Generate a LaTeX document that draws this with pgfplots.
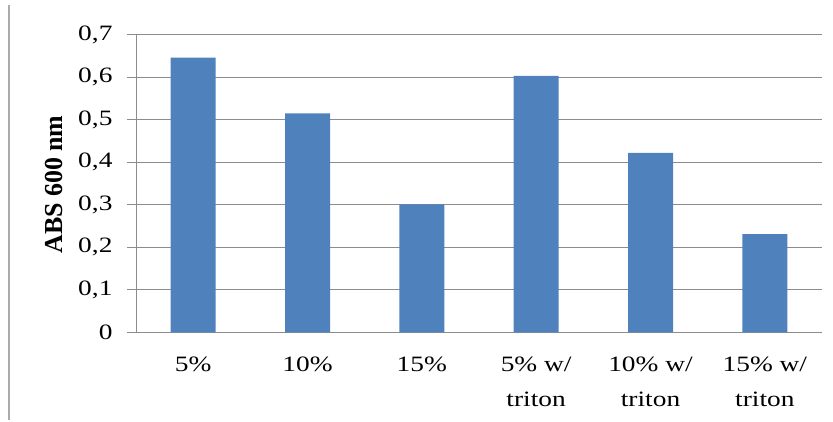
\documentclass[border=0pt]{standalone}
\usepackage{fontspec}
\setmainfont{Liberation Serif}
\newfontfamily\widefont{Liberation Serif}[FakeStretch=1.25]
\usepackage{pgfplots}
\pgfplotsset{compat=1.18}
\definecolor{barblue}{HTML}{4F81BD}
\definecolor{gridgray}{HTML}{8C8C8C}
\begin{document}
\begin{tikzpicture}[x=1bp,y=1bp]
\useasboundingbox (0,0) rectangle (833,421);
\draw[draw=black!33, line width=2bp] (8.7,1) -- (8.7,416);
\begin{axis}[
  at={(136bp,88.7bp)}, anchor=south west,
  scale only axis, width=686bp, height=297.6bp,
  ymin=0, ymax=0.7, ytick={0,0.1,...,0.7},
  xmin=-0.5, xmax=5.5,
  xtick={0,...,5},
  xticklabels={5\%,10\%,15\%,{5\% w/\\triton},{10\% w/\\triton},{15\% w/\\triton}},
  xticklabel style={align=center, font=\widefont\fontsize{22}{35}\selectfont, anchor=north, yshift=-12bp},
  major x tick style={draw=none},
  yticklabel style={font=\widefont\fontsize{22}{24}\selectfont, xshift=-11bp},
  /pgf/number format/assume math mode=true,
  /pgf/number format/use comma,
  /pgf/number format/fixed,
  /pgf/number format/precision=1,
  ymajorgrids, grid style={gridgray, line width=0.9bp},
  axis x line*=bottom, axis y line*=left,
  axis line style={gridgray, line width=0.9bp, -},
  ytick style={gridgray, line width=0.9bp},
  tick align=outside, major tick length=9bp,
  ylabel={\textbf{ABS 600 nm}},
  ylabel style={font=\fontsize{26}{28}\selectfont, at={(axis description cs:-0.1188,0.4966)}, anchor=center},
  clip=false,
]
\addplot[ybar, bar width=45bp, fill=barblue, draw=none] coordinates {
  (0,0.646) (1,0.515) (2,0.301) (3,0.603) (4,0.422) (5,0.231)
};
\end{axis}
\end{tikzpicture}
\end{document}
